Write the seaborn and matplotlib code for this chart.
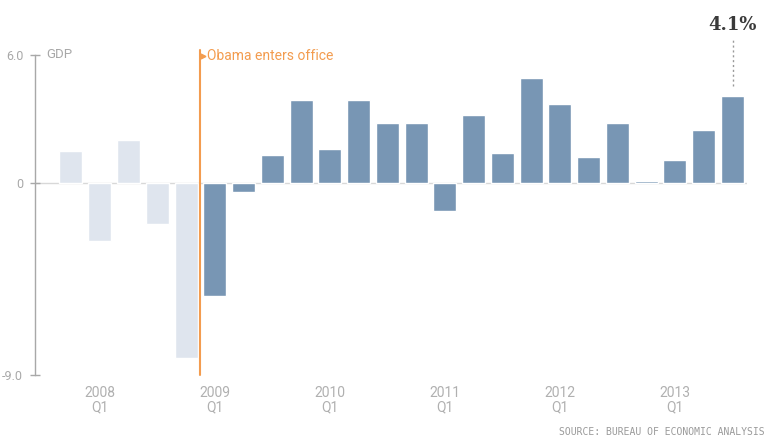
import pandas as pd
import numpy as np
import matplotlib
matplotlib.use("Agg")
import matplotlib.pyplot as plt
import seaborn as sns

# quarterly GDP growth, annualised (%)
quarters = ["2007 Q4",
            "2008 Q1", "2008 Q2", "2008 Q3", "2008 Q4",
            "2009 Q1", "2009 Q2", "2009 Q3", "2009 Q4",
            "2010 Q1", "2010 Q2", "2010 Q3", "2010 Q4",
            "2011 Q1", "2011 Q2", "2011 Q3", "2011 Q4",
            "2012 Q1", "2012 Q2", "2012 Q3", "2012 Q4",
            "2013 Q1", "2013 Q2", "2013 Q3"]
gdp = [1.5,
       -2.7, 2.0, -1.9, -8.2,
       -5.3, -0.4, 1.3, 3.9,
       1.6, 3.9, 2.8, 2.8,
       -1.3, 3.2, 1.4, 4.9,
       3.7, 1.2, 2.8, 0.1,
       1.1, 2.5, 4.1]
era = ["before"] * 5 + ["obama"] * 19

year_ticks = ["2008 Q1", "2009 Q1", "2010 Q1", "2011 Q1", "2012 Q1", "2013 Q1"]
year_labels = ["2008\nQ1", "2009\nQ1", "2010\nQ1", "2011\nQ1", "2012\nQ1", "2013\nQ1"]

y_ticks = [6.0, 0, -9.0]
y_tick_labels = ["6.0", "0", "-9.0"]

LIGHT = "#dfe5ee"
DARK = "#7896b4"
ORANGE = "#f39c4f"
GRAY = "#a8a8a8"

df = pd.DataFrame({"quarter": quarters, "gdp": gdp, "era": era})

sns.set_style("white")
plt.rcParams["font.family"] = ["Liberation Sans Narrow", "Roboto", "DejaVu Sans"]

fig = plt.figure(figsize=(7.7, 4.41), dpi=100)
ax = fig.add_axes([0.0455, 0.1497, 0.9245, 0.7256])

sns.barplot(data=df, x="quarter", y="gdp", hue="era", order=quarters,
            palette={"before": LIGHT, "obama": DARK}, dodge=False,
            saturation=1, width=0.8, legend=False, ax=ax)

ax.set_xlim(-1.25, 23.5)
ax.set_ylim(-9.0, 6.0)

# zero line
ax.axhline(0, color="#d8d8d8", lw=1, zorder=0)

# only the left spine
sns.despine(ax=ax, top=True, right=True, bottom=True, left=False)
ax.spines["left"].set_color(GRAY)
ax.spines["left"].set_linewidth(1)

ax.set_yticks(y_ticks)
ax.set_yticklabels(y_tick_labels)
ax.tick_params(axis="y", left=True, direction="inout", length=7, width=1,
               color=GRAY, labelcolor=GRAY, labelsize=9, pad=5)
ax.set_xticks([quarters.index(q) for q in year_ticks])
ax.set_xticklabels(year_labels)
ax.tick_params(axis="x", bottom=False, length=0, labelcolor="#b0b0b0",
               labelsize=10, pad=8)
for t in ax.get_xticklabels():
    t.set_linespacing(1.0)
ax.set_xlabel("")
ax.set_ylabel("")
ax.grid(False)

ax.text(-0.85, 6.0, "GDP", color=GRAY, fontsize=9.5, va="center", ha="left")

# Obama takes office marker
ax.plot([4.5, 4.5], [-9.0, 6.25], color=ORANGE, lw=1.5, clip_on=False, zorder=5)
ax.plot([4.6], [5.95], marker=">", color=ORANGE, markersize=3.5, clip_on=False, zorder=5)
ax.text(4.73, 5.95, "Obama enters office", color=ORANGE, fontsize=10,
        va="center", ha="left")

# last value callout
last = len(gdp) - 1
ax.plot([last, last], [gdp[last] + 0.45, 6.75], color="#999999", lw=1,
        ls=(0, (1.5, 2)), clip_on=False)
ax.text(last, 7.4, "4.1%", family="DejaVu Serif", fontweight="bold",
        fontsize=13, color="#3a3a3a", ha="center", va="center", clip_on=False)

fig.text(0.9935, 0.008, "SOURCE: BUREAU OF ECONOMIC ANALYSIS",
         family="DejaVu Sans Mono", fontsize=7, color="#9a9a9a",
         ha="right", va="bottom")

fig.savefig("out.png", dpi=100)
